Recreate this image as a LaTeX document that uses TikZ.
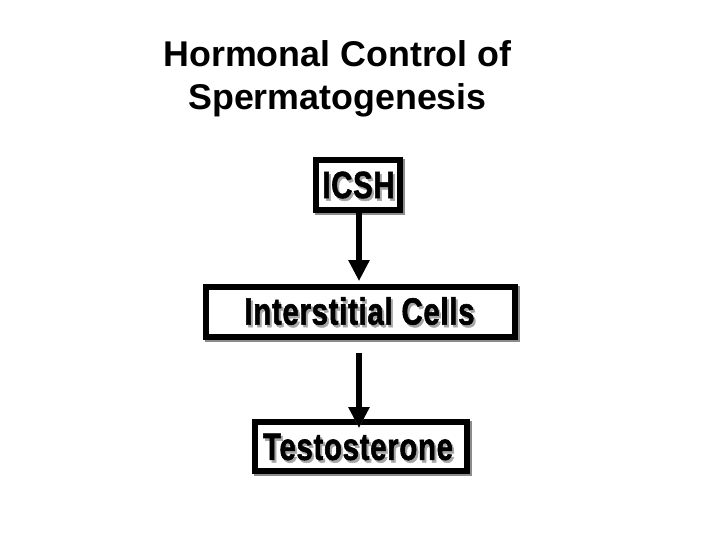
\documentclass[tikz,border=0pt]{standalone}
\usepackage{fontspec}
\setmainfont{Liberation Sans}
\newfontfamily\boxfont{Liberation Sans}[FakeStretch=0.77,FakeBold=1.5,LetterSpace=2]
\usetikzlibrary{arrows.meta}
\begin{document}
\begin{tikzpicture}[x=1pt,y=-1pt,
  boxstyle/.style={draw=black, line width=6pt, fill=white, inner sep=0pt},
  shadowbox/.style={fill=black!45, inner sep=0pt},
  lbl/.style={font=\boxfont\bfseries\fontsize{38}{40}\selectfont, inner sep=0pt},
  lblshadow/.style={lbl, text=black!35},
  titlestyle/.style={font=\bfseries\fontsize{35.8}{40}\selectfont, inner sep=0pt, anchor=base},
  conn/.style={line width=5.5pt, -{Triangle[width=20pt,length=21pt]}},
  connshadow/.style={conn, draw=black!45, color=black!45},
]
\useasboundingbox (0,0) rectangle (720,540);
% title
\node[titlestyle] (t1) at (337.5,67) {Hormonal Control of};
\node[titlestyle] (t2) at (337.5,110) {Spermatogenesis};
% box shadows
\node[shadowbox, minimum width=90pt, minimum height=56pt] (s1) at (360,187) {};
\node[shadowbox, minimum width=315pt, minimum height=56pt] (s2) at (362.5,314) {};
\node[shadowbox, minimum width=218pt, minimum height=55pt] (s3) at (363,448.5) {};
% boxes
\node[boxstyle, minimum width=84pt, minimum height=50pt] (icsh) at (358,185) {};
\node[boxstyle, minimum width=309pt, minimum height=50pt] (cells) at (360.5,312) {};
\node[boxstyle, minimum width=212pt, minimum height=49pt] (testo) at (361,446.5) {};
% labels
\node[lblshadow] (l1s) at (360.5,187.5) {ICSH};
\node[lbl] (l1) at (358.5,185) {ICSH};
\node[lblshadow] (l2s) at (361.5,313.5) {Interstitial Cells};
\node[lbl] (l2) at (359.5,311) {Interstitial Cells};
\node[lblshadow] (l3s) at (360,449.5) {Testosterone};
\node[lbl] (l3) at (358,447) {Testosterone};
% connectors
\coordinate (a1s) at (359,213);
\coordinate (a1e) at (359,281);
\coordinate (a2s) at (359,353);
\coordinate (a2e) at (359,428);
\draw[connshadow, xshift=-2pt] (a1s) -- (a1e);
\draw[conn] (a1s) -- (a1e);
\draw[connshadow, xshift=-2pt] (a2s) -- (a2e);
\draw[conn] (a2s) -- (a2e);
\end{tikzpicture}
\end{document}
